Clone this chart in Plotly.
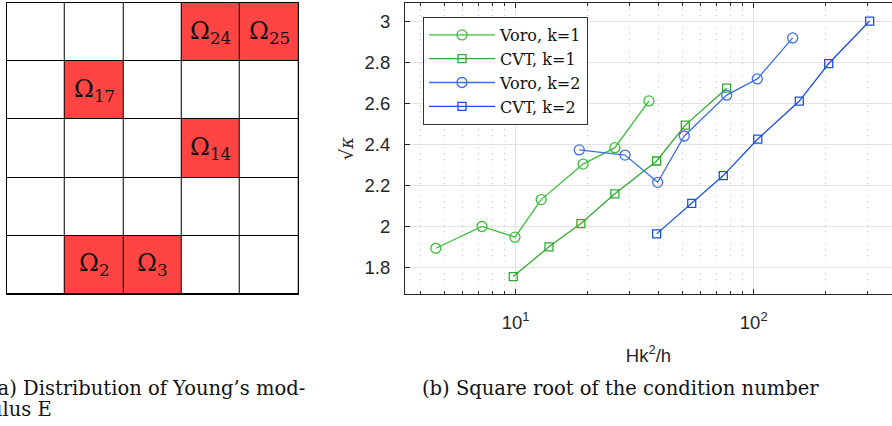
import plotly.graph_objects as go

# ---------------- data ----------------
# left panel: 5x5 grid, cells numbered row-wise from bottom-left (1..25)
grid_n = 5
red_cells = [2, 3, 14, 17, 24, 25]

# right panel: sqrt of condition number vs Hk^2/h
voro_k1_x = [4.62, 7.22, 9.93, 12.8, 19.2, 26.1, 36.3]
voro_k1_y = [1.894, 2.000, 1.948, 2.131, 2.304, 2.384, 2.612]
cvt_k1_x = [9.77, 13.8, 18.8, 26.1, 39.1, 51.6, 77.0]
cvt_k1_y = [1.756, 1.901, 2.014, 2.159, 2.319, 2.494, 2.674]
voro_k2_x = [18.5, 28.8, 39.5, 51.1, 77.0, 103.5, 145.8]
voro_k2_y = [2.373, 2.348, 2.215, 2.441, 2.640, 2.719, 2.919]
cvt_k2_x = [39.1, 54.9, 74.5, 104.0, 155.5, 206.6, 307.0]
cvt_k2_y = [1.964, 2.113, 2.248, 2.426, 2.611, 2.794, 3.001]

x_major = [10, 100]
x_major_text = ["10<sup>1</sup>", "10<sup>2</sup>"]
x_minor = [m * 10 ** e for e in range(0, 3) for m in range(2, 10)]

# ---------------- figure ----------------
W, H = 892, 426
ML, MR, MT, MB = 0, 0, 3, 132
fig = go.Figure()

# left: heatmap grid
z = [[1 if (r * grid_n + c + 1) in red_cells else 0 for c in range(grid_n)]
     for r in range(grid_n)]
fig.add_trace(go.Heatmap(
    z=z, x=[c + 0.5 for c in range(grid_n)], y=[r + 0.5 for r in range(grid_n)],
    colorscale=[[0, "white"], [1, "#ff4444"]], zmin=0, zmax=1,
    showscale=False, xgap=1, ygap=1, hoverinfo="skip",
    xaxis="x2", yaxis="y2", showlegend=False))

fig.add_shape(type="rect", xref="x2 domain", yref="y2 domain",
              x0=0, x1=1, y0=0, y1=1, fillcolor="#000000",
              line=dict(width=0), layer="below")

for idx in red_cells:
    r, c = divmod(idx - 1, grid_n)
    fig.add_annotation(x=c + 0.5, y=r + 0.5, xref="x2", yref="y2",
                       text=f"Ω<sub>{idx}</sub>", showarrow=False,
                       font=dict(family="DejaVu Serif", size=24, color="#111"))

# right: lines
green1, green2 = "#3bbf3b", "#2eaa2e"
blue1, blue2 = "#3d6fe8", "#1a4fe0"
series = [
    ("Voro, k=1", voro_k1_x, voro_k1_y, green1, "circle-open", 10),
    ("CVT, k=1", cvt_k1_x, cvt_k1_y, green2, "square-open", 8),
    ("Voro, k=2", voro_k2_x, voro_k2_y, blue1, "circle-open", 10),
    ("CVT, k=2", cvt_k2_x, cvt_k2_y, blue2, "square-open", 8),
]
for name, xs, ys, col, sym, sz in series:
    fig.add_trace(go.Scatter(
        x=xs, y=ys, name=name, mode="lines+markers",
        line=dict(color=col, width=1.3),
        marker=dict(symbol=sym, size=sz, color=col, line=dict(width=1.3, color=col)),
        xaxis="x", yaxis="y"))

axis_col = "#262626"
tick_font = dict(family="Liberation Sans", size=18.5, color=axis_col)

fig.update_layout(
    width=W, height=H, margin=dict(l=ML, r=MR, t=MT, b=MB),
    paper_bgcolor="white", plot_bgcolor="white",
    xaxis=dict(
        domain=[405 / W, 1.0], type="log", range=[0.535, 2.581],
        tickmode="array", tickvals=x_major, ticktext=x_major_text,
        ticks="inside", ticklen=5, tickcolor=axis_col, tickfont=tick_font,
        ticklabelstandoff=12,
        showline=True, linecolor=axis_col, linewidth=1, mirror="ticks",
        showgrid=True, gridcolor="#e3e3e3", gridwidth=1, zeroline=False,
        minor=dict(tickmode="array", tickvals=x_minor, ticks="inside", ticklen=3,
                   tickcolor=axis_col, showgrid=True, gridcolor="#c8c8c8",
                   griddash="1px,5px", gridwidth=1),
        title=dict(text="Hk<sup>2</sup>/h", font=tick_font, standoff=16),
    ),
    yaxis=dict(
        domain=[0, 1], range=[1.671, 3.089], dtick=0.2, tick0=0,
        ticks="inside", ticklen=5, tickcolor=axis_col, tickfont=tick_font,
        ticklabelstandoff=10,
        showline=True, linecolor=axis_col, linewidth=1, mirror=False,
        showgrid=True, gridcolor="#e3e3e3", gridwidth=1, zeroline=False,
        title=dict(text="√<i>κ</i>", font=dict(family="DejaVu Serif", size=18, color=axis_col),
                   standoff=6),
    ),
    xaxis2=dict(domain=[6.7 / W, 298.3 / W], range=[0, grid_n], showticklabels=False,
                ticks="", showgrid=False, zeroline=False, showline=True,
                linecolor="#000", linewidth=1, mirror=True, anchor="y2"),
    yaxis2=dict(domain=[0, 1], range=[0, grid_n], showticklabels=False,
                ticks="", showgrid=False, zeroline=False, showline=True,
                linecolor="#000", linewidth=1, mirror=True, anchor="x2"),
    legend=dict(x=423 / W, y=(294 - 17) / 291, xanchor="left", yanchor="top",
                bgcolor="white", bordercolor="#333", borderwidth=1,
                font=dict(family="DejaVu Serif", size=16, color="#111"),
                itemwidth=66, tracegroupgap=0),
    showlegend=True,
)

plot_h = H - MT - MB
def py(pix):
    return (H - MB - pix) / plot_h

cap_font = dict(family="DejaVu Serif", size=19.5, color="#111")
fig.add_annotation(xref="paper", yref="paper", x=-12 / W, y=py(388),
                   xanchor="left", yanchor="middle", showarrow=False,
                   text="(a) Distribution of Young’s mod-", font=cap_font)
fig.add_annotation(xref="paper", yref="paper", x=-12 / W, y=py(409),
                   xanchor="left", yanchor="middle", showarrow=False,
                   text="ulus E", font=cap_font)
fig.add_annotation(xref="paper", yref="paper", x=420 / W, y=py(388),
                   xanchor="left", yanchor="middle", showarrow=False,
                   text="(b) Square root of the condition number", font=cap_font)

fig.write_html("out.html", config={"displayModeBar": False},
               post_script="document.body.style.margin='0px';document.body.style.padding='0px';")
